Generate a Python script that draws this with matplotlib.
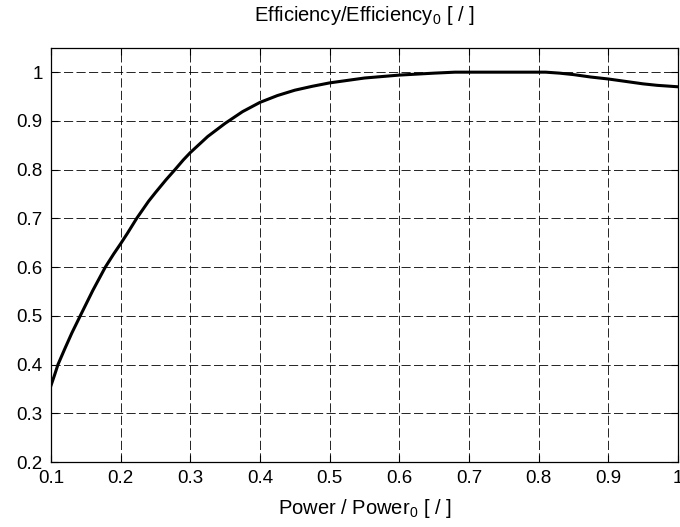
import numpy as np
import matplotlib
matplotlib.use("Agg")
import matplotlib.pyplot as plt

# relative power and relative efficiency
power = [0.100, 0.105, 0.110, 0.120, 0.130, 0.142, 0.160, 0.178, 0.190, 0.200,
         0.210, 0.223, 0.240, 0.250, 0.265, 0.278, 0.290, 0.300, 0.325, 0.350,
         0.375, 0.400, 0.425, 0.450, 0.475, 0.500, 0.550, 0.600, 0.650, 0.680,
         0.750, 0.810, 0.830, 0.850, 0.875, 0.900, 0.925, 0.950, 0.970, 1.000]
efficiency = [0.357, 0.378, 0.400, 0.433, 0.465, 0.500, 0.552, 0.600, 0.627, 0.648,
              0.670, 0.700, 0.735, 0.753, 0.779, 0.800, 0.820, 0.835, 0.868, 0.895,
              0.919, 0.938, 0.952, 0.963, 0.971, 0.978, 0.988, 0.994, 0.998, 1.000,
              1.000, 1.000, 0.998, 0.995, 0.990, 0.986, 0.981, 0.976, 0.973, 0.970]

xticks = np.arange(0.1, 1.01, 0.1)
yticks = np.arange(0.2, 1.01, 0.1)

plt.rcParams['font.family'] = ['Liberation Sans', 'DejaVu Sans']
plt.rcParams['mathtext.fontset'] = 'custom'
plt.rcParams['mathtext.rm'] = 'Liberation Sans'
plt.rcParams['mathtext.it'] = 'Liberation Sans'

fig = plt.figure(figsize=(6.8, 5.27), dpi=100)
ax = fig.add_axes([0.075, 0.1233, 0.922, 0.786])

ax.plot(power, efficiency, color='black', linewidth=2.2)

ax.set_xlim(0.1, 1.0)
ax.set_ylim(0.2, 1.05)
ax.set_xticks(xticks)
ax.set_yticks(yticks)
ax.set_xticklabels(['%g' % round(t, 1) for t in xticks])
ax.set_yticklabels(['%g' % round(t, 1) for t in yticks])
ax.tick_params(direction='in', length=5, width=0.8, top=True, right=True,
               labelsize=13.5, pad=6)

ax.grid(True, color='black', linewidth=0.6, linestyle=(0, (11, 4)))
for s in ax.spines.values():
    s.set_linewidth(0.9)

ax.set_title(r'Efficiency/Efficiency$_{0}$ [ / ]', fontsize=14.5, pad=19)
ax.set_xlabel(r'Power / Power$_{0}$ [ / ]', fontsize=14.5, labelpad=7)

fig.savefig('out.png', dpi=100)
